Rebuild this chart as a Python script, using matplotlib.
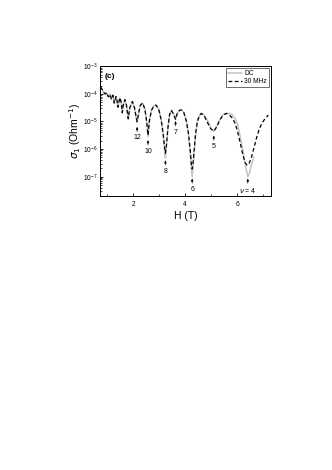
import matplotlib
matplotlib.use("Agg")
import matplotlib.pyplot as plt
from matplotlib.ticker import LogLocator, NullFormatter, MultipleLocator

plt.rcParams['font.family'] = ['Liberation Sans', 'DejaVu Sans']

# DC curve: field (T) and log10 sigma (Ohm^-1)
h_dc = [0.75, 0.82, 0.88, 0.93, 0.98, 1.03, 1.06, 1.11, 1.16, 1.22, 1.27, 1.34, 1.38,
        1.41, 1.45, 1.49, 1.54, 1.58, 1.62, 1.68, 1.74, 1.81, 1.87, 1.97, 2.05, 2.11,
        2.15, 2.20, 2.27, 2.36, 2.45, 2.52, 2.57, 2.62, 2.70, 2.80, 2.88, 2.98, 3.08,
        3.16, 3.21, 3.24, 3.28, 3.34, 3.40, 3.47, 3.55, 3.63, 3.70, 3.78, 3.86, 3.95,
        4.05, 4.13, 4.20, 4.24, 4.27, 4.30, 4.34, 4.40, 4.47, 4.55, 4.63, 4.75, 4.88,
        5.00, 5.10, 5.20, 5.32, 5.45, 5.60, 5.72, 5.82, 5.92, 6.02, 6.12, 6.22, 6.32,
        6.41, 6.48, 6.56, 6.64]
lg_dc = [-3.78, -3.88, -3.95, -4.02, -3.97, -4.07, -4.12, -4.00, -4.20, -4.04, -4.35, -4.09, -4.25,
         -4.50, -4.30, -4.13, -4.30, -4.70, -4.40, -4.20, -4.40, -4.92, -4.50, -4.28, -4.50, -4.85,
         -5.05, -4.75, -4.42, -4.33, -4.55, -5.05, -5.55, -5.00, -4.60, -4.43, -4.41, -4.55, -4.95,
         -5.55, -6.05, -6.32, -5.90, -5.20, -4.75, -4.60, -4.72, -4.93, -4.70, -4.60, -4.58, -4.68,
         -5.00, -5.50, -6.20, -6.70, -7.00, -6.70, -6.20, -5.50, -5.00, -4.78, -4.70, -4.78, -5.00,
         -5.25, -5.35, -5.20, -4.95, -4.75, -4.70, -4.71, -4.76, -4.88, -5.12, -5.55, -6.05, -6.60,
         -7.00, -6.85, -6.55, -6.30]

# 30 MHz curve
h_rf = [0.75, 0.82, 0.88, 0.93, 0.98, 1.03, 1.06, 1.11, 1.16, 1.22, 1.27, 1.34, 1.38,
        1.41, 1.45, 1.49, 1.54, 1.58, 1.62, 1.68, 1.74, 1.81, 1.87, 1.97, 2.05, 2.11,
        2.15, 2.20, 2.27, 2.36, 2.45, 2.52, 2.57, 2.62, 2.70, 2.80, 2.88, 2.98, 3.08,
        3.16, 3.21, 3.24, 3.28, 3.34, 3.40, 3.47, 3.55, 3.63, 3.70, 3.78, 3.86, 3.95,
        4.05, 4.13, 4.20, 4.24, 4.27, 4.30, 4.34, 4.40, 4.47, 4.55, 4.62, 4.72, 4.85,
        4.98, 5.10, 5.20, 5.32, 5.45, 5.58, 5.70, 5.80, 5.90, 6.00, 6.10, 6.20, 6.30,
        6.38, 6.45, 6.55, 6.65, 6.75, 6.85, 6.95, 7.05, 7.20]
lg_rf = [-3.75, -3.86, -3.97, -4.00, -3.95, -4.09, -4.10, -4.02, -4.18, -4.05, -4.33, -4.10, -4.26,
         -4.48, -4.30, -4.14, -4.32, -4.68, -4.40, -4.21, -4.40, -4.90, -4.50, -4.28, -4.50, -4.82,
         -5.00, -4.75, -4.42, -4.33, -4.55, -5.00, -5.50, -5.00, -4.60, -4.43, -4.41, -4.55, -4.95,
         -5.50, -5.95, -6.15, -5.85, -5.20, -4.75, -4.60, -4.72, -4.92, -4.70, -4.60, -4.58, -4.68,
         -5.00, -5.45, -6.10, -6.55, -6.72, -6.55, -6.10, -5.45, -5.00, -4.78, -4.71, -4.78, -5.02,
         -5.26, -5.35, -5.22, -4.98, -4.78, -4.71, -4.76, -4.86, -5.02, -5.30, -5.70, -6.12, -6.48,
         -6.58, -6.55, -6.30, -5.95, -5.58, -5.28, -5.07, -4.93, -4.77]

# minimum labels: text, field, log10 sigma at arrow tip
min_txt = ['12', '10', '8', '7', '6', '5', r'$\nu$ = 4']
min_h = [2.15, 2.57, 3.24, 3.63, 4.27, 5.10, 6.41]
min_lg = [-5.19, -5.67, -6.40, -4.98, -7.06, -5.50, -7.06]

xticks = [2, 4, 6]

fig = plt.figure(figsize=(3.32, 4.70), dpi=100)
ax = fig.add_axes([0.301, 0.583, 0.515, 0.276])

ax.plot(h_dc, [10**v for v in lg_dc], color='#c4c4c4', lw=1.1, label='DC')
ax.plot(h_rf, [10**v for v in lg_rf], color='black', lw=0.9, ls=(0, (3, 2)), label='30 MHz')

ax.set_yscale('log')
ax.set_xlim(0.72, 7.3)
ax.set_ylim(10**-7.7, 1e-3)
ax.set_xticks(xticks)
ax.xaxis.set_minor_locator(MultipleLocator(1))
ax.yaxis.set_major_locator(LogLocator(base=10, numticks=10))
ax.yaxis.set_minor_locator(LogLocator(base=10, subs=range(2, 10), numticks=20))
ax.yaxis.set_minor_formatter(NullFormatter())
ax.tick_params(which='both', direction='in', top=False, right=False, labelsize=4.8)
ax.tick_params(axis='x', pad=3.5)
ax.tick_params(axis='y', pad=2)
ax.tick_params(which='major', length=2.5, width=0.6)
ax.tick_params(which='minor', length=1.5, width=0.5)
for s in ax.spines.values():
    s.set_linewidth(0.7)

for t, h, lg in zip(min_txt, min_h, min_lg):
    ax.annotate(t, xy=(h, 10**lg), xytext=(0, -5.5), textcoords='offset points',
                ha='center', va='top', fontsize=5,
                arrowprops=dict(arrowstyle='-|>,head_length=0.3,head_width=0.12',
                                color='black', lw=0.5, shrinkA=0, shrinkB=0))

ax.text(0.03, 0.95, '(c)', transform=ax.transAxes, fontsize=6, fontweight='bold',
        ha='left', va='top')

ax.set_xlabel('H (T)', fontsize=7.5, labelpad=2)
ax.set_ylabel(r'$\sigma_1$ (Ohm$^{-1}$)', fontsize=7.5, labelpad=0)

leg = ax.legend(loc='upper right', fontsize=4.8, frameon=True, fancybox=False,
                edgecolor='black', handlelength=2.2, borderpad=0.3, labelspacing=0.15,
                handletextpad=0.3, borderaxespad=0.3)
leg.get_frame().set_linewidth(0.5)

fig.savefig('out.png', dpi=100)
